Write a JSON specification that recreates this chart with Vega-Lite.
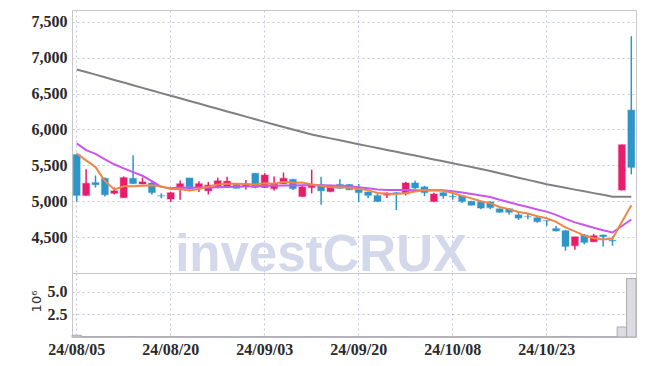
{
  "$schema": "https://vega.github.io/schema/vega-lite/v6.json",
  "padding": {"left": 29, "top": 9, "right": 9, "bottom": 5},
  "background": "white",
  "bounds": "flush",
  "datasets": {
    "px": [
      {"d": "24/08/05", "o": 5650, "h": 5660, "l": 4995, "c": 5080, "v": 190000, "ma5": 5665, "ma20": 5806, "ma120": 6837},
      {"d": "24/08/06", "o": 5080, "h": 5445, "l": 5075, "c": 5250, "v": 45000, "ma5": 5569, "ma20": 5712, "ma120": 6800},
      {"d": "24/08/07", "o": 5260, "h": 5360, "l": 5190, "c": 5230, "v": 38000, "ma5": 5476, "ma20": 5661, "ma120": 6764},
      {"d": "24/08/08", "o": 5320, "h": 5330, "l": 5065, "c": 5090, "v": 35000, "ma5": 5282, "ma20": 5583, "ma120": 6727},
      {"d": "24/08/09", "o": 5110, "h": 5190, "l": 5095, "c": 5145, "v": 30000, "ma5": 5165, "ma20": 5515, "ma120": 6690},
      {"d": "24/08/12", "o": 5050, "h": 5345, "l": 5045, "c": 5330, "v": 40000, "ma5": 5209, "ma20": 5457, "ma120": 6654},
      {"d": "24/08/13", "o": 5320, "h": 5640, "l": 5240, "c": 5245, "v": 55000, "ma5": 5208, "ma20": 5405, "ma120": 6617},
      {"d": "24/08/14", "o": 5240, "h": 5330, "l": 5235, "c": 5270, "v": 28000, "ma5": 5216, "ma20": 5355, "ma120": 6580},
      {"d": "24/08/16", "o": 5255, "h": 5270, "l": 5095, "c": 5120, "v": 30000, "ma5": 5222, "ma20": 5280, "ma120": 6544},
      {"d": "24/08/19", "o": 5078, "h": 5110, "l": 5040, "c": 5072, "v": 25000, "ma5": 5207, "ma20": 5200, "ma120": 6507},
      {"d": "24/08/20", "o": 5030, "h": 5125, "l": 4990, "c": 5120, "v": 32000, "ma5": 5170, "ma20": 5182, "ma120": 6470},
      {"d": "24/08/21", "o": 5180, "h": 5290, "l": 5020, "c": 5245, "v": 35000, "ma5": 5168, "ma20": 5190, "ma120": 6434},
      {"d": "24/08/22", "o": 5325, "h": 5325, "l": 5140, "c": 5175, "v": 30000, "ma5": 5150, "ma20": 5188, "ma120": 6397},
      {"d": "24/08/23", "o": 5190, "h": 5280, "l": 5130, "c": 5245, "v": 28000, "ma5": 5171, "ma20": 5190, "ma120": 6361},
      {"d": "24/08/26", "o": 5145, "h": 5270, "l": 5095, "c": 5225, "v": 30000, "ma5": 5202, "ma20": 5192, "ma120": 6324},
      {"d": "24/08/27", "o": 5205, "h": 5330, "l": 5180, "c": 5285, "v": 32000, "ma5": 5235, "ma20": 5195, "ma120": 6288},
      {"d": "24/08/28", "o": 5210, "h": 5340, "l": 5190, "c": 5280, "v": 30000, "ma5": 5242, "ma20": 5200, "ma120": 6251},
      {"d": "24/08/29", "o": 5235, "h": 5245, "l": 5175, "c": 5180, "v": 24000, "ma5": 5243, "ma20": 5203, "ma120": 6215},
      {"d": "24/08/30", "o": 5210, "h": 5295, "l": 5165, "c": 5235, "v": 26000, "ma5": 5241, "ma20": 5205, "ma120": 6179},
      {"d": "24/09/02", "o": 5390, "h": 5395, "l": 5180, "c": 5190, "v": 40000, "ma5": 5234, "ma20": 5208, "ma120": 6142},
      {"d": "24/09/03", "o": 5190, "h": 5390, "l": 5185, "c": 5365, "v": 42000, "ma5": 5250, "ma20": 5215, "ma120": 6106},
      {"d": "24/09/04", "o": 5175, "h": 5345, "l": 5150, "c": 5245, "v": 30000, "ma5": 5243, "ma20": 5215, "ma120": 6070},
      {"d": "24/09/05", "o": 5245, "h": 5400, "l": 5240, "c": 5320, "v": 33000, "ma5": 5271, "ma20": 5220, "ma120": 6035},
      {"d": "24/09/06", "o": 5305, "h": 5310, "l": 5155, "c": 5175, "v": 28000, "ma5": 5259, "ma20": 5220, "ma120": 6000},
      {"d": "24/09/09", "o": 5065, "h": 5230, "l": 5060, "c": 5200, "v": 30000, "ma5": 5261, "ma20": 5222, "ma120": 5965},
      {"d": "24/09/10", "o": 5190, "h": 5440, "l": 5110, "c": 5235, "v": 45000, "ma5": 5235, "ma20": 5225, "ma120": 5930},
      {"d": "24/09/11", "o": 5230, "h": 5340, "l": 4950, "c": 5145, "v": 40000, "ma5": 5215, "ma20": 5222, "ma120": 5903},
      {"d": "24/09/12", "o": 5135, "h": 5230, "l": 5125, "c": 5215, "v": 25000, "ma5": 5194, "ma20": 5220, "ma120": 5876},
      {"d": "24/09/13", "o": 5235, "h": 5305, "l": 5175, "c": 5180, "v": 26000, "ma5": 5195, "ma20": 5215, "ma120": 5849},
      {"d": "24/09/19", "o": 5235, "h": 5240, "l": 5155, "c": 5160, "v": 24000, "ma5": 5187, "ma20": 5210, "ma120": 5822},
      {"d": "24/09/20", "o": 5170, "h": 5240, "l": 4990, "c": 5120, "v": 30000, "ma5": 5170, "ma20": 5195, "ma120": 5795},
      {"d": "24/09/23", "o": 5130, "h": 5135, "l": 5040, "c": 5080, "v": 28000, "ma5": 5155, "ma20": 5180, "ma120": 5768},
      {"d": "24/09/24", "o": 5080, "h": 5100, "l": 4990, "c": 4995, "v": 35000, "ma5": 5115, "ma20": 5165, "ma120": 5742},
      {"d": "24/09/25", "o": 5085, "h": 5125, "l": 5045, "c": 5115, "v": 27000, "ma5": 5105, "ma20": 5158, "ma120": 5715},
      {"d": "24/09/26", "o": 5120, "h": 5130, "l": 4875, "c": 5110, "v": 38000, "ma5": 5100, "ma20": 5155, "ma120": 5689},
      {"d": "24/09/27", "o": 5105, "h": 5270, "l": 5080, "c": 5255, "v": 40000, "ma5": 5115, "ma20": 5155, "ma120": 5662},
      {"d": "24/09/30", "o": 5255, "h": 5285, "l": 5170, "c": 5185, "v": 30000, "ma5": 5135, "ma20": 5152, "ma120": 5636},
      {"d": "24/10/02", "o": 5200, "h": 5215, "l": 5070, "c": 5120, "v": 28000, "ma5": 5157, "ma20": 5150, "ma120": 5610},
      {"d": "24/10/04", "o": 4995, "h": 5120, "l": 4990, "c": 5100, "v": 30000, "ma5": 5154, "ma20": 5152, "ma120": 5583},
      {"d": "24/10/07", "o": 5120, "h": 5125, "l": 5035, "c": 5075, "v": 25000, "ma5": 5147, "ma20": 5153, "ma120": 5557},
      {"d": "24/10/08", "o": 5070, "h": 5100, "l": 5020, "c": 5062, "v": 22000, "ma5": 5115, "ma20": 5140, "ma120": 5530},
      {"d": "24/10/10", "o": 5075, "h": 5080, "l": 4975, "c": 4995, "v": 30000, "ma5": 5075, "ma20": 5122, "ma120": 5503},
      {"d": "24/10/11", "o": 5000, "h": 5005, "l": 4940, "c": 4945, "v": 32000, "ma5": 5040, "ma20": 5100, "ma120": 5476},
      {"d": "24/10/14", "o": 4995, "h": 5000, "l": 4890, "c": 4905, "v": 35000, "ma5": 5000, "ma20": 5080, "ma120": 5448},
      {"d": "24/10/15", "o": 4990, "h": 5000, "l": 4890, "c": 4910, "v": 28000, "ma5": 4970, "ma20": 5060, "ma120": 5421},
      {"d": "24/10/16", "o": 4895, "h": 4900, "l": 4840, "c": 4845, "v": 30000, "ma5": 4920, "ma20": 5020, "ma120": 5390},
      {"d": "24/10/17", "o": 4895, "h": 4900, "l": 4810, "c": 4845, "v": 30000, "ma5": 4890, "ma20": 4985, "ma120": 5359},
      {"d": "24/10/18", "o": 4810, "h": 4850, "l": 4740, "c": 4765, "v": 33000, "ma5": 4850, "ma20": 4950, "ma120": 5328},
      {"d": "24/10/21", "o": 4790, "h": 4830, "l": 4750, "c": 4785, "v": 22000, "ma5": 4828, "ma20": 4920, "ma120": 5298},
      {"d": "24/10/22", "o": 4770, "h": 4800, "l": 4700, "c": 4715, "v": 30000, "ma5": 4791, "ma20": 4885, "ma120": 5267},
      {"d": "24/10/23", "o": 4730, "h": 4735, "l": 4655, "c": 4725, "v": 28000, "ma5": 4762, "ma20": 4855, "ma120": 5236},
      {"d": "24/10/24", "o": 4620, "h": 4655, "l": 4580, "c": 4585, "v": 35000, "ma5": 4712, "ma20": 4810, "ma120": 5211},
      {"d": "24/10/25", "o": 4590, "h": 4600, "l": 4310, "c": 4370, "v": 60000, "ma5": 4635, "ma20": 4755, "ma120": 5187},
      {"d": "24/10/28", "o": 4380, "h": 4505, "l": 4325, "c": 4505, "v": 40000, "ma5": 4580, "ma20": 4705, "ma120": 5162},
      {"d": "24/10/29", "o": 4530, "h": 4545, "l": 4400, "c": 4425, "v": 30000, "ma5": 4522, "ma20": 4670, "ma120": 5138},
      {"d": "24/10/30", "o": 4435, "h": 4545, "l": 4430, "c": 4520, "v": 28000, "ma5": 4485, "ma20": 4630, "ma120": 5113},
      {"d": "24/10/31", "o": 4530, "h": 4535, "l": 4370, "c": 4505, "v": 30000, "ma5": 4468, "ma20": 4595, "ma120": 5089},
      {"d": "24/11/01", "o": 4455, "h": 4510, "l": 4380, "c": 4445, "v": 25000, "ma5": 4480, "ma20": 4565, "ma120": 5064},
      {"d": "24/11/04", "o": 5155, "h": 5790, "l": 5150, "c": 5788, "v": 1100000, "ma5": null, "ma20": null, "ma120": null},
      {"d": "24/11/05", "o": 6270, "h": 7300, "l": 5375, "c": 5470, "v": 6430000, "ma5": 4945, "ma20": 4745, "ma120": 5064}
    ],
    "mark": [{"label": "investCRUX", "d": "24/09/11", "y": 4030}]
  },
  "config": {
    "view": {"stroke": "#c8c8c8", "strokeWidth": 1},
    "axis": {
      "domain": false,
      "ticks": false,
      "gridColor": "#c3c7dc",
      "gridDash": [2, 3],
      "gridWidth": 1,
      "labelFont": "Liberation Sans Narrow",
      "labelFontSize": 16,
      "labelFontWeight": "bold",
      "labelColor": "#2a2a2a"
    }
  },
  "vconcat": [
    {
      "width": 564,
      "height": 263,
      "encoding": {
        "x": {
          "field": "d", "type": "ordinal",
          "scale": {"type": "band", "paddingInner": 0, "paddingOuter": 0},
          "axis": {"labels": false, "title": null, "grid": true, "bandPosition": 0.5,
                   "values": ["24/08/05", "24/08/20", "24/09/03", "24/09/20", "24/10/08", "24/10/23"]}
        }
      },
      "layer": [
        {
          "data": {"name": "mark"},
          "mark": {"type": "text", "font": "Liberation Sans", "fontWeight": "bold", "fontSize": 51, "color": "#d3d8ea", "align": "center", "baseline": "alphabetic"},
          "encoding": {
            "text": {"field": "label"},
            "y": {"field": "y", "type": "quantitative", "scale": {"domain": [4000, 7665], "nice": false, "zero": false},
                  "axis": {"title": null, "grid": true, "format": ",d", "labelPadding": 5, "values": [4500, 5000, 5500, 6000, 6500, 7000, 7500]}}
          }
        },
        {
          "data": {"name": "px"},
          "mark": {"type": "rule", "strokeWidth": 1.5},
          "encoding": {
            "y": {"field": "l", "type": "quantitative"},
            "y2": {"field": "h"},
            "color": {"condition": {"test": "datum.c >= datum.o", "value": "#e71d6b"}, "value": "#2f95c9"}
          }
        },
        {
          "data": {"name": "px"},
          "mark": {"type": "bar", "size": 7, "strokeWidth": 1.5, "strokeOpacity": 0.25},
          "encoding": {
            "y": {"field": "o", "type": "quantitative"},
            "y2": {"field": "c"},
            "color": {"condition": {"test": "datum.c >= datum.o", "value": "#e71d6b"}, "value": "#2f95c9"},
            "stroke": {"condition": {"test": "datum.c >= datum.o", "value": "#e71d6b"}, "value": "#2f95c9"}
          }
        },
        {
          "data": {"name": "px"},
          "mark": {"type": "line", "color": "#808080", "strokeWidth": 2, "invalid": "filter"},
          "encoding": {"y": {"field": "ma120", "type": "quantitative"}}
        },
        {
          "data": {"name": "px"},
          "mark": {"type": "line", "color": "#c857ec", "strokeWidth": 2, "invalid": "filter"},
          "encoding": {"y": {"field": "ma20", "type": "quantitative"}}
        },
        {
          "data": {"name": "px"},
          "mark": {"type": "line", "color": "#ee8648", "strokeWidth": 2, "invalid": "filter"},
          "encoding": {"y": {"field": "ma5", "type": "quantitative"}}
        }
      ]
    },
    {
      "width": 564,
      "height": 64,
      "data": {"name": "px"},
      "mark": {"type": "bar", "color": "#dcdce2", "stroke": "#a9a9b0", "strokeWidth": 1},
      "encoding": {
        "x": {
          "field": "d", "type": "ordinal",
          "scale": {"type": "band", "paddingInner": 0, "paddingOuter": 0},
          "axis": {"title": null, "grid": true, "bandPosition": 0.5, "labelAngle": 0, "labelPadding": 4,
                   "values": ["24/08/05", "24/08/20", "24/09/03", "24/09/20", "24/10/08", "24/10/23"]}
        },
        "y": {
          "field": "v", "type": "quantitative",
          "scale": {"domain": [0, 7050000], "nice": false},
          "axis": {"values": [2500000, 5000000], "labelExpr": "format(datum.value / 1000000, '.1f')", "labelPadding": 5,
                   "title": "10⁶", "titleFont": "DejaVu Sans", "titleFontSize": 13, "titleFontWeight": "normal", "titleColor": "#333333",
                   "titleX": -36, "titleY": 28, "titleAlign": "center", "titleBaseline": "middle", "titleAngle": -90}
        }
      }
    }
  ],
  "spacing": 0
}
